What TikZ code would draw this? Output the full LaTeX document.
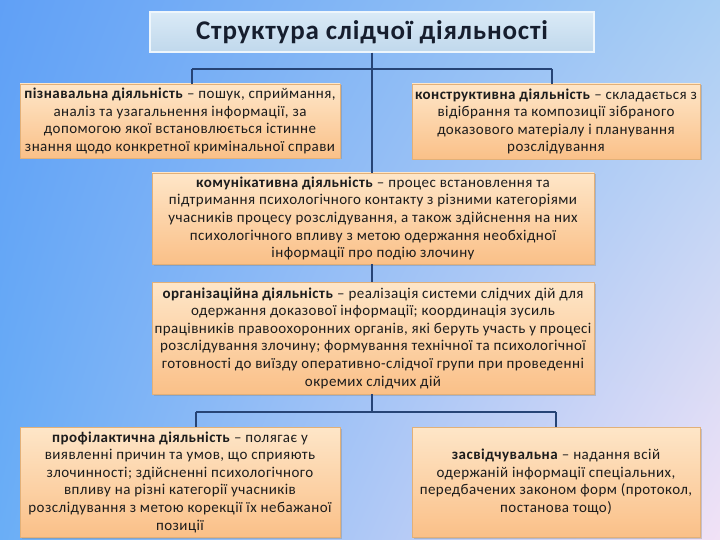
\documentclass[tikz,border=0pt]{standalone}
\usepackage{fontspec}
\setmainfont{Carlito}
\newfontfamily\boxfont{Carlito}[LetterSpace=3]
\newfontfamily\headfont{Carlito}[LetterSpace=3]
\usetikzlibrary{shadows,calc,shadings}
\definecolor{bgUL}{RGB}{96,160,246}
\definecolor{bgUR}{RGB}{168,206,244}
\definecolor{bgLL}{RGB}{106,174,246}
\definecolor{bgLR}{RGB}{242,226,246}
\definecolor{boxTop}{RGB}{254,230,200}
\definecolor{boxBot}{RGB}{250,192,136}
\definecolor{boxLine}{RGB}{226,176,120}
\definecolor{titleTop}{RGB}{218,234,246}
\definecolor{titleBot}{RGB}{192,216,236}
\definecolor{titleLine}{RGB}{238,246,252}
\definecolor{titleText}{RGB}{22,30,46}
\definecolor{linkCol}{RGB}{38,68,118}
\definecolor{bodyText}{RGB}{28,28,28}
\begin{document}
\begin{tikzpicture}[x=1pt,y=-1pt,
  infobox/.style={draw=boxLine, line width=0.6pt, top color=boxTop, bottom color=boxBot,
    drop shadow={shadow xshift=1.5pt, shadow yshift=-1.5pt, opacity=0.35},
    inner sep=0pt, align=center, text=bodyText,
    font=\boxfont\fontsize{15}{17.6}\selectfont},
  titlebox/.style={draw=titleLine, line width=1.5pt, top color=titleTop, bottom color=titleBot,
    inner sep=0pt, text=titleText, font=\headfont\fontsize{27}{30}\selectfont\bfseries},
  link/.style={draw=linkCol, line width=1.8pt}]
\useasboundingbox (0,0) rectangle (720,540);
\shade[upper left=bgUL, upper right=bgUR, lower left=bgLL, lower right=bgLR] (0,0) rectangle (720,540);

\node[titlebox, minimum width=444pt, minimum height=40pt] (title) at (372,32) {Структура слідчої діяльності};

\node[infobox, minimum width=320pt, minimum height=74pt] (pizn) at (180,121)
 {\textbf{пізнавальна діяльність} – пошук, сприймання,\\ аналіз та узагальнення інформації, за\\ допомогою якої встановлюється істинне\\ знання щодо конкретної кримінальної справи};
\node[infobox, minimum width=288pt, minimum height=75pt] (konstr) at (556,121.5)
 {\textbf{конструктивна діяльність} – складається з\\ відібрання та композиції зібраного\\ доказового матеріалу і планування\\ розслідування};
\node[infobox, minimum width=442pt, minimum height=91pt] (komun) at (373,218.5)
 {\textbf{комунікативна діяльність} – процес встановлення та\\ підтримання психологічного контакту з різними категоріями\\ учасників процесу розслідування, а також здійснення на них\\ психологічного впливу з метою одержання необхідної\\ інформації про подію злочину};
\node[infobox, minimum width=442pt, minimum height=112pt] (org) at (373,338)
 {\textbf{організаційна діяльність} – реалізація системи слідчих дій для\\ одержання доказової інформації; координація зусиль\\ працівників правоохоронних органів, які беруть участь у процесі\\ розслідування злочину; формування технічної та психологічної\\ готовності до виїзду оперативно-слідчої групи при проведенні\\ окремих слідчих дій};
\node[infobox, minimum width=320pt, minimum height=110pt] (prof) at (180,482)
 {\textbf{профілактична діяльність} – полягає у\\ виявленні причин та умов, що сприяють\\ злочинності; здійсненні психологічного\\ впливу на різні категорії учасників\\ розслідування з метою корекції їх небажаної\\ позиції};
\node[infobox, minimum width=288pt, minimum height=110pt] (zasv) at (556,482)
 {\textbf{засвідчувальна} – надання всій\\ одержаній інформації спеціальних,\\ передбачених законом форм (протокол,\\ постанова тощо)};

\coordinate (topL) at (192,69);
\coordinate (topR) at (552,69);
\coordinate (botL) at (196,412);
\coordinate (botR) at (556,412);

\draw[link] (title.south) -- (title.south |- komun.north);
\draw[link] (title.south |- komun.south) -- (title.south |- org.north);
\draw[link] (topL) -- (topR);
\draw[link] (topL) -- (topL |- pizn.north);
\draw[link] (topR) -- (topR |- konstr.north);
\draw[link] (title.south |- org.south) -- (title.south |- botL);
\draw[link] (botL) -- (botR);
\draw[link] (botL) -- (botL |- prof.north);
\draw[link] (botR) -- (botR |- zasv.north);
\end{tikzpicture}
\end{document}
